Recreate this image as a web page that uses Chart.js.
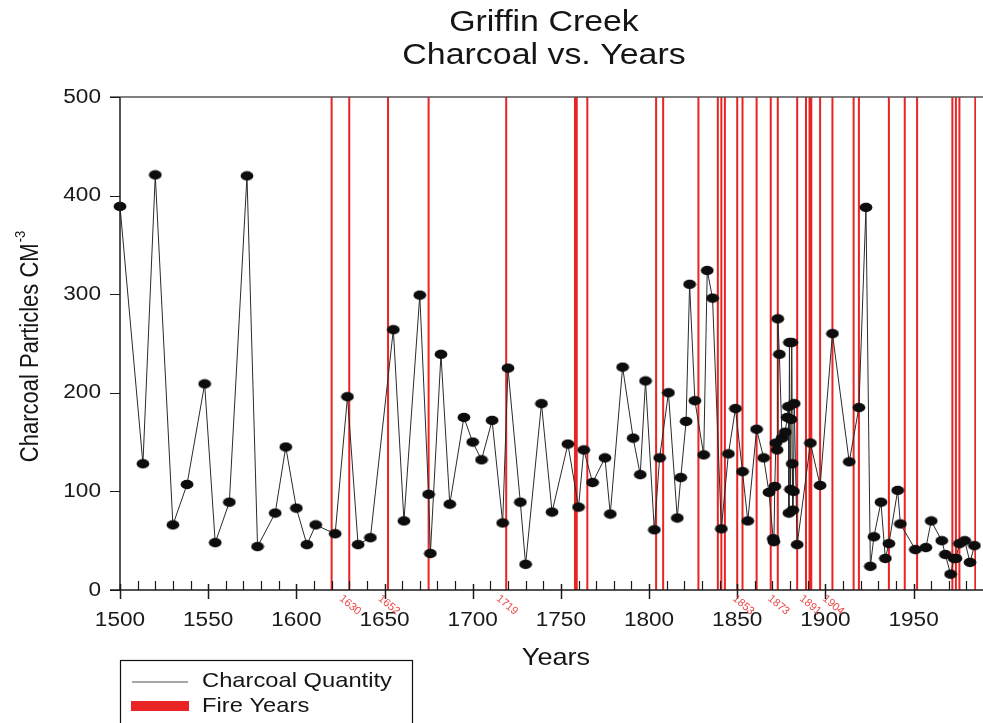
<!DOCTYPE html>
<html>
<head>
<meta charset="utf-8">
<title>Griffin Creek – Charcoal vs. Years</title>
<script src="https://cdn.jsdelivr.net/npm/chart.js@4/dist/chart.umd.min.js"></script>
<style>
  html, body { margin: 0; padding: 0; background: #ffffff; }
  canvas { display: block; }
</style>
</head>
<body>
<canvas id="chart" width="983" height="723"></canvas>
<script>
// Sample years of the core and the charcoal count (particles per cm³) at each
const sampleYears = [
  1500, 1513, 1520, 1530, 1538, 1548, 1554, 1562, 1572, 1578,
  1588, 1594, 1600, 1606, 1611, 1622, 1629, 1635, 1642, 1655,
  1661, 1670, 1675, 1676, 1682, 1687, 1695, 1700, 1705, 1711,
  1717, 1720, 1727, 1730, 1739, 1745, 1754, 1760, 1763, 1768,
  1775, 1778, 1785, 1791, 1795, 1798, 1803, 1806, 1811, 1816,
  1818, 1821, 1823, 1826, 1831, 1833, 1836, 1841, 1845, 1849,
  1853, 1856, 1861, 1865, 1868, 1870.4, 1870.8, 1871.3, 1871.9, 1872.6,
  1873, 1873.9, 1875.4, 1877.2, 1878.3, 1879, 1879.3, 1879.6, 1880.2, 1880.5,
  1880.9, 1881.2, 1881.5, 1881.9, 1882.3, 1884, 1891.5, 1897, 1904, 1913.5,
  1919, 1923, 1925.5, 1927.5, 1931.5, 1934, 1936, 1941, 1942.5, 1951,
  1957, 1960, 1966, 1968, 1971, 1973, 1974, 1976, 1979, 1982,
  1984.5
];
const charcoalValues = [
  389, 128, 421, 66, 107, 209, 48, 89, 420, 44,
  78, 145, 83, 46, 66, 57, 196, 46, 53, 264,
  70, 299, 97, 37, 239, 87, 175, 150, 132, 172,
  68, 225, 89, 26, 189, 79, 148, 84, 142, 109,
  134, 77, 226, 154, 117, 212, 61, 134, 200, 73,
  114, 171, 310, 192, 137, 324, 296, 62, 138, 184,
  120, 70, 163, 134, 99, 52, 49, 105, 149, 142,
  275, 239, 154, 160, 175, 186, 78, 251, 102, 173,
  251, 128, 81, 100, 189, 46, 149, 106, 260, 130,
  185, 388, 24, 54, 89, 32, 47, 101, 67, 41,
  43, 70, 50, 36, 16, 32, 32, 47, 50, 28,
  45
];

// Documented fire years, and the ones annotated under the axis
const fireYears = [
  1620, 1630, 1652, 1675, 1719, 1758, 1759, 1765, 1804, 1808,
  1828, 1839, 1841, 1843, 1850, 1853, 1861, 1869, 1873, 1884,
  1889, 1891, 1892, 1897, 1904, 1916, 1919, 1936, 1945, 1952,
  1972, 1974, 1976, 1985
];
const labelledFireYears = [1630, 1652, 1719, 1853, 1873, 1891, 1904];

// Axis ticks
const yTickValues = [0, 100, 200, 300, 400, 500];
const xMajorTicks = [1500, 1550, 1600, 1650, 1700, 1750, 1800, 1850, 1900, 1950];
const xMinorTicks = [];
for (let yr = 1500; yr <= 1980; yr += 10) xMinorTicks.push(yr);

const X_MIN = 1500, X_MAX = 1985.4, Y_MIN = 0, Y_MAX = 500;

const FONT = '"Liberation Sans", Arial, Helvetica, sans-serif';
const TEXT_SX = 1.13;      // slightly widened lettering
const AXIS_COLOR = '#1a1a1a';
const FIRE_COLOR = 'rgb(232, 36, 36)';

// Oval black marker used for the charcoal samples
const marker = document.createElement('canvas');
marker.width = 14; marker.height = 11;
(function () {
  const m = marker.getContext('2d');
  m.fillStyle = '#0d0d0d';
  m.beginPath();
  m.ellipse(7, 5.5, 6.4, 4.7, 0, 0, Math.PI * 2);
  m.fill();
})();

const charcoalPoints = sampleYears.map((x, i) => ({ x: x, y: charcoalValues[i] }));

// Each fire year becomes a vertical segment across the full value range
const firePoints = [];
fireYears.forEach(yr => {
  firePoints.push({ x: yr, y: Y_MIN }, { x: yr, y: Y_MAX }, { x: yr, y: null });
});

function drawText(ctx, str, x, y, opts) {
  ctx.save();
  ctx.translate(x, y);
  if (opts.rotate) ctx.rotate(opts.rotate);
  ctx.scale(opts.sx || 1, 1);
  ctx.font = opts.font;
  ctx.fillStyle = opts.color || '#111';
  ctx.textAlign = opts.align || 'left';
  ctx.textBaseline = opts.baseline || 'middle';
  ctx.fillText(str, 0, 0);
  ctx.restore();
}

const decorations = {
  id: 'decorations',
  afterDatasetsDraw(chart) {
    const ctx = chart.ctx;
    const xs = chart.scales.x, ys = chart.scales.y;
    const area = chart.chartArea;
    const x0 = area.left, yBottom = ys.getPixelForValue(Y_MIN), yTop = ys.getPixelForValue(Y_MAX);

    ctx.save();
    ctx.strokeStyle = AXIS_COLOR;
    ctx.lineWidth = 1.5;
    ctx.lineCap = 'butt';

    // frame: left axis, bottom axis, top rule
    ctx.beginPath();
    ctx.moveTo(x0, yTop); ctx.lineTo(x0, yBottom);
    ctx.moveTo(x0 - 10, yBottom); ctx.lineTo(chart.width, yBottom);
    ctx.stroke();
    ctx.strokeStyle = '#555';
    ctx.beginPath();
    ctx.moveTo(x0 - 10, yTop); ctx.lineTo(chart.width, yTop);
    ctx.stroke();

    // y ticks (outside, left)
    ctx.strokeStyle = AXIS_COLOR;
    ctx.lineWidth = 1.2;
    ctx.beginPath();
    yTickValues.forEach(v => {
      const py = Math.round(ys.getPixelForValue(v)) + 0.5;
      ctx.moveTo(x0 - 10, py); ctx.lineTo(x0, py);
    });
    // x minor ticks (inside)
    xMinorTicks.forEach(v => {
      if (xMajorTicks.includes(v)) return;
      const px = Math.round(xs.getPixelForValue(v)) + 0.5;
      ctx.moveTo(px, yBottom - 9); ctx.lineTo(px, yBottom);
    });
    ctx.stroke();
    // x major ticks (cross the axis)
    ctx.lineWidth = 1.5;
    ctx.beginPath();
    xMajorTicks.forEach(v => {
      const px = Math.round(xs.getPixelForValue(v)) + 0.5;
      ctx.moveTo(px, yBottom - 6); ctx.lineTo(px, yBottom + 9);
    });
    ctx.stroke();
    ctx.restore();

    // tick labels
    yTickValues.forEach(v => {
      drawText(ctx, String(v), x0 - 19, ys.getPixelForValue(v), {
        font: '20px ' + FONT, align: 'right', sx: TEXT_SX, color: '#1a1a1a'
      });
    });
    xMajorTicks.forEach(v => {
      drawText(ctx, String(v), xs.getPixelForValue(v), yBottom + 30, {
        font: '20px ' + FONT, align: 'center', sx: TEXT_SX, color: '#1a1a1a'
      });
    });

    // fire-year annotations under the axis
    labelledFireYears.forEach(yr => {
      drawText(ctx, String(yr), xs.getPixelForValue(yr) - 5, yBottom + 3, {
        font: '11px ' + FONT, align: 'left', baseline: 'top',
        rotate: 40 * Math.PI / 180, color: 'rgb(236, 70, 70)'
      });
    });

    // titles
    const cx = 544;
    drawText(ctx, 'Griffin Creek', cx, 23, { font: '30px ' + FONT, align: 'center', sx: TEXT_SX, color: '#151515' });
    drawText(ctx, 'Charcoal vs. Years', cx, 56, { font: '30px ' + FONT, align: 'center', sx: TEXT_SX, color: '#151515' });
    drawText(ctx, 'Years', 556, 658, { font: '24px ' + FONT, align: 'center', sx: TEXT_SX, color: '#151515' });

    // y-axis title with superscript exponent
    ctx.save();
    ctx.translate(31, 347);
    ctx.scale(TEXT_SX, 1);
    ctx.rotate(-Math.PI / 2);
    ctx.fillStyle = '#151515';
    ctx.textBaseline = 'middle';
    ctx.font = '22px ' + FONT;
    const main = 'Charcoal Particles CM';
    ctx.font = '13px ' + FONT;
    const supW = ctx.measureText('-3').width;
    ctx.font = '22px ' + FONT;
    const mainW = ctx.measureText(main).width;
    const start = -(mainW + supW) / 2;
    ctx.textAlign = 'left';
    ctx.fillText(main, start, 0);
    ctx.font = '13px ' + FONT;
    ctx.fillText('-3', start + mainW + 1, -9);
    ctx.restore();

    // legend box
    ctx.save();
    ctx.strokeStyle = '#111';
    ctx.lineWidth = 1.2;
    ctx.strokeRect(120.5, 660.5, 292, 80);
    ctx.strokeStyle = '#8a8a8a';
    ctx.lineWidth = 1.3;
    ctx.beginPath(); ctx.moveTo(132, 682); ctx.lineTo(188, 682); ctx.stroke();
    ctx.fillStyle = FIRE_COLOR;
    ctx.fillRect(131, 701, 58, 10);
    ctx.restore();
    drawText(ctx, 'Charcoal Quantity', 202, 681, { font: '21px ' + FONT, sx: TEXT_SX, color: '#151515' });
    drawText(ctx, 'Fire Years', 202, 706, { font: '21px ' + FONT, sx: TEXT_SX, color: '#151515' });
  }
};

new Chart(document.getElementById('chart'), {
  type: 'line',
  data: {
    datasets: [
      {
        label: 'Charcoal Quantity',
        data: charcoalPoints,
        borderColor: '#2a2a2a',
        borderWidth: 1,
        pointStyle: marker,
        pointRadius: 6,
        pointHoverRadius: 6,
        tension: 0,
        clip: false,
        order: 1
      },
      {
        label: 'Fire Years',
        data: firePoints,
        borderColor: FIRE_COLOR,
        borderWidth: 2,
        pointRadius: 0,
        pointHoverRadius: 0,
        spanGaps: false,
        tension: 0,
        order: 2
      }
    ]
  },
  options: {
    responsive: false,
    animation: false,
    events: [],
    layout: { padding: { left: 0, right: 0, top: 97, bottom: 0 } },
    plugins: {
      legend: { display: false },
      title: { display: false },
      tooltip: { enabled: false }
    },
    scales: {
      x: {
        type: 'linear',
        min: X_MIN,
        max: X_MAX,
        grid: { display: false },
        border: { display: false },
        ticks: { display: false },
        afterFit(scale) { scale.height = 133; }
      },
      y: {
        type: 'linear',
        min: Y_MIN,
        max: Y_MAX,
        grid: { display: false },
        border: { display: false },
        ticks: { display: false },
        afterFit(scale) { scale.width = 120; }
      }
    }
  },
  plugins: [decorations]
});
</script>
</body>
</html>
